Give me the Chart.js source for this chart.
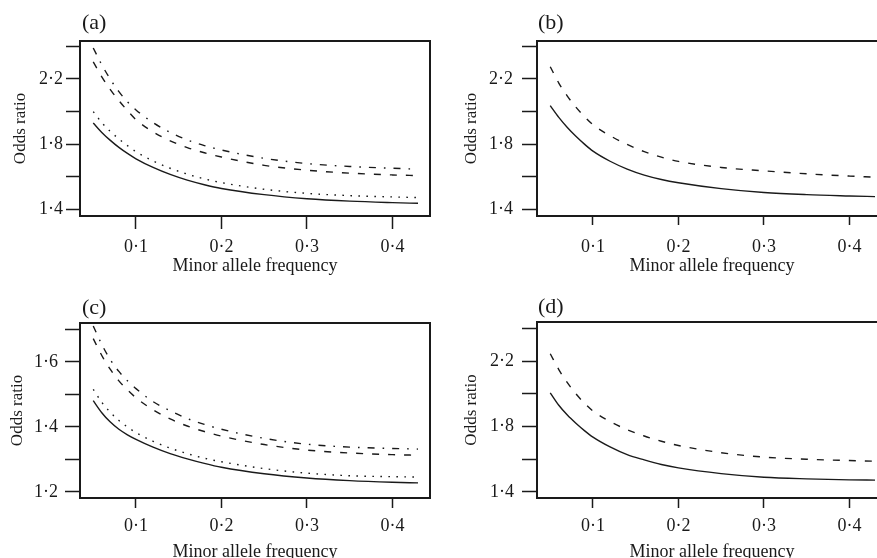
<!DOCTYPE html>
<html>
<head>
<meta charset="utf-8">
<script src="https://cdn.jsdelivr.net/npm/chart.js@4.4.1/dist/chart.umd.min.js"></script>
<style>
  html, body { margin: 0; padding: 0; background: #fff; overflow: hidden; width: 877px; height: 558px; position: relative; }
  canvas { position: absolute; }
</style>
</head>
<body>
<canvas id="panel-a" width="438" height="290" style="left:0px;top:0px"></canvas>
<canvas id="panel-b" width="460" height="290" style="left:437px;top:0px"></canvas>
<canvas id="panel-c" width="438" height="290" style="left:0px;top:278px"></canvas>
<canvas id="panel-d" width="460" height="290" style="left:437px;top:278px"></canvas>
<script>
// Minor allele frequency (x) shared by all panels
const maf = [0.05, 0.06, 0.07, 0.08, 0.09, 0.1, 0.12, 0.14, 0.16, 0.18, 0.2, 0.25, 0.3, 0.35, 0.4, 0.43];
const xTicks = [0.1, 0.2, 0.3, 0.4];

// Panel (a)
const aSolid   = [1.93, 1.872, 1.823, 1.78, 1.743, 1.71, 1.657, 1.614, 1.579, 1.551, 1.528, 1.49, 1.465, 1.45, 1.441, 1.437];
const aDotted  = [2.0, 1.932, 1.878, 1.832, 1.791, 1.754, 1.697, 1.652, 1.616, 1.587, 1.564, 1.523, 1.498, 1.484, 1.476, 1.472];
const aDashed  = [2.305, 2.213, 2.135, 2.067, 2.006, 1.95, 1.875, 1.82, 1.779, 1.747, 1.721, 1.67, 1.64, 1.622, 1.611, 1.607];
const aDashDot = [2.39, 2.287, 2.198, 2.122, 2.06, 2.01, 1.932, 1.872, 1.826, 1.791, 1.764, 1.713, 1.681, 1.663, 1.652, 1.646];

// Panel (b)
const bSolid  = [2.036, 1.964, 1.902, 1.848, 1.8, 1.757, 1.695, 1.647, 1.61, 1.583, 1.563, 1.527, 1.503, 1.49, 1.482, 1.478];
const bDashed = [2.275, 2.175, 2.095, 2.027, 1.969, 1.919, 1.852, 1.798, 1.754, 1.72, 1.694, 1.657, 1.636, 1.618, 1.604, 1.597];

// Panel (c)
const cSolid   = [1.481, 1.444, 1.415, 1.393, 1.376, 1.362, 1.338, 1.318, 1.302, 1.288, 1.276, 1.256, 1.243, 1.235, 1.23, 1.228];
const cDotted  = [1.516, 1.476, 1.445, 1.42, 1.4, 1.383, 1.356, 1.335, 1.318, 1.304, 1.293, 1.272, 1.258, 1.25, 1.247, 1.246];
const cDashed  = [1.672, 1.62, 1.577, 1.542, 1.514, 1.49, 1.453, 1.425, 1.403, 1.386, 1.372, 1.346, 1.329, 1.32, 1.315, 1.313];
const cDashDot = [1.711, 1.654, 1.607, 1.571, 1.542, 1.518, 1.478, 1.45, 1.426, 1.408, 1.393, 1.365, 1.347, 1.338, 1.334, 1.332];

// Panel (d)
const dSolid  = [2.006, 1.93, 1.87, 1.82, 1.775, 1.735, 1.675, 1.628, 1.596, 1.568, 1.547, 1.512, 1.49, 1.48, 1.474, 1.472];
const dDashed = [2.245, 2.148, 2.068, 2.0, 1.943, 1.895, 1.83, 1.781, 1.742, 1.71, 1.684, 1.64, 1.613, 1.6, 1.592, 1.588];

// y ticks
const yTicksOR = [1.4, 1.6, 1.8, 2.0, 2.2, 2.4];
const yLabelsOR = [1.4, 1.8, 2.2];
const yTicksC = [1.2, 1.3, 1.4, 1.5, 1.6, 1.7];
const yLabelsC = [1.2, 1.4, 1.6];

const INK = "#1a1a1a";
const FONT = "'Liberation Serif', 'Times New Roman', serif";
const dashes = {
  solid: [],
  dotted: [1.6, 6.4],
  dashed: [7, 9],
  dashdot: [7, 8, 1.6, 8],
};

// frame round the plot area + the (a)/(b) label
const framePlugin = {
  id: "frame",
  afterDraw(chart, args, opts) {
    const { ctx, chartArea: ca } = chart;
    ctx.save();
    ctx.strokeStyle = INK;
    ctx.lineWidth = 2;
    ctx.strokeRect(ca.left, ca.top, ca.right - ca.left, ca.bottom - ca.top);
    ctx.fillStyle = INK;
    ctx.font = "22px " + FONT;
    ctx.textBaseline = "middle";
    ctx.textAlign = "left";
    ctx.fillText(opts.label, ca.left + opts.labelDx, ca.top - opts.labelDy);
    ctx.restore();
  },
};

function fmt(v) {
  return v.toFixed(1).replace(".", "\u00b7");
}

function makePanel(id, label, lines, y, g) {
  const ctx = document.getElementById(id).getContext("2d");
  return new Chart(ctx, {
    type: "line",
    data: {
      datasets: lines.map((l) => ({
        data: maf.map((x, i) => ({ x: x, y: l.values[i] })),
        borderColor: INK,
        borderWidth: 1.4,
        borderDash: dashes[l.style],
        pointRadius: 0,
        cubicInterpolationMode: "monotone",
        fill: false,
      })),
    },
    options: {
      responsive: false,
      animation: false,
      devicePixelRatio: 1,
      layout: { padding: { top: g.top, right: g.right, left: 0, bottom: 0 } },
      plugins: {
        legend: { display: false },
        tooltip: { enabled: false },
        frame: { label: label, labelDx: g.labelDx, labelDy: g.labelDy },
      },
      scales: {
        x: {
          type: "linear",
          min: 0.0345,
          max: 0.444,
          afterBuildTicks: (s) => { s.ticks = xTicks.map((v) => ({ value: v })); },
          afterFit: (s) => { s.height = g.xHeight; },
          grid: { drawOnChartArea: false, drawTicks: true, tickLength: g.xTickLen, tickColor: INK, tickWidth: 1.5 },
          border: { display: true, color: INK, width: 2 },
          ticks: {
            autoSkip: false, maxRotation: 0, padding: g.xPad, color: INK,
            font: { family: FONT, size: 18 },
            callback: (v) => fmt(v),
          },
          title: {
            display: true, text: "Minor allele frequency", color: INK,
            font: { family: FONT, size: 18 },
            padding: { top: 0, bottom: g.xTitlePad },
          },
        },
        y: {
          type: "linear",
          min: y.min,
          max: y.max,
          afterBuildTicks: (s) => { s.ticks = y.ticks.map((v) => ({ value: v })); },
          afterFit: (s) => { s.width = g.yWidth; },
          grid: { drawOnChartArea: false, drawTicks: true, tickLength: g.yTickLen, tickColor: INK, tickWidth: 1.5 },
          border: { display: true, color: INK, width: 2 },
          ticks: {
            autoSkip: false, padding: g.yPad, color: INK,
            font: { family: FONT, size: 18 },
            callback: (v) => (y.labelled.some((l) => Math.abs(l - v) < 1e-6) ? fmt(v) : ""),
          },
          title: {
            display: true, text: "Odds ratio", color: INK,
            font: { family: FONT, size: 17 },
            padding: { top: g.yTitlePad, bottom: 0 },
          },
        },
      },
    },
    plugins: [framePlugin],
  });
}

makePanel("panel-a", "(a)",
  [
    { values: aSolid, style: "solid" },
    { values: aDotted, style: "dotted" },
    { values: aDashed, style: "dashed" },
    { values: aDashDot, style: "dashdot" },
  ],
  { min: 1.359, max: 2.433, ticks: yTicksOR, labelled: yLabelsOR },
  { top: 41, right: 8, yWidth: 80, xHeight: 74, yTickLen: 14, yPad: 3, yTitlePad: 10.5,
    xTickLen: 13, xPad: 7.7, xTitlePad: 12.5, labelDx: 2, labelDy: 18 });

makePanel("panel-b", "(b)",
  [
    { values: bSolid, style: "solid" },
    { values: bDashed, style: "dashed" },
  ],
  { min: 1.359, max: 2.433, ticks: yTicksOR, labelled: yLabelsOR },
  { top: 41, right: 10, yWidth: 100, xHeight: 74, yTickLen: 15, yPad: 9, yTitlePad: 24.8,
    xTickLen: 9, xPad: 11.7, xTitlePad: 12.5, labelDx: 1, labelDy: 18 });

makePanel("panel-c", "(c)",
  [
    { values: cSolid, style: "solid" },
    { values: cDotted, style: "dotted" },
    { values: cDashed, style: "dashed" },
    { values: cDashDot, style: "dashdot" },
  ],
  { min: 1.1815, max: 1.72, ticks: yTicksC, labelled: yLabelsC },
  { top: 45, right: 8, yWidth: 80, xHeight: 70, yTickLen: 15, yPad: 7, yTitlePad: 7.5,
    xTickLen: 10, xPad: 7.7, xTitlePad: 5, labelDx: 2, labelDy: 15 });

makePanel("panel-d", "(d)",
  [
    { values: dSolid, style: "solid" },
    { values: dDashed, style: "dashed" },
  ],
  { min: 1.363, max: 2.439, ticks: yTicksOR, labelled: yLabelsOR },
  { top: 44, right: 10, yWidth: 100, xHeight: 70, yTickLen: 15, yPad: 8, yTitlePad: 24.8,
    xTickLen: 10, xPad: 7.7, xTitlePad: 5, labelDx: 1, labelDy: 15 });
</script>
</body>
</html>
